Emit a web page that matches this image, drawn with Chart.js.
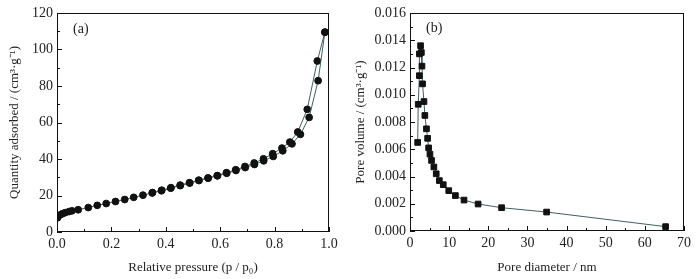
<!DOCTYPE html>
<html><head><meta charset="utf-8">
<script src="https://cdn.jsdelivr.net/npm/chart.js@4/dist/chart.umd.min.js"></script>
<style>
html,body{margin:0;padding:0;background:#fff;}
#wrap{position:relative;width:696px;height:279px;overflow:hidden;}
canvas{position:absolute;top:0;}
.lab{position:absolute;font-family:"Liberation Serif",serif;font-size:14px;color:#222;}
</style></head>
<body>
<div id="wrap">
<canvas id="c1" width="348" height="279" style="left:0"></canvas>
<canvas id="c2" width="348" height="279" style="left:348px"></canvas>
<div class="lab" style="left:73px;top:21px">(a)</div>
<div class="lab" style="left:426px;top:20px">(b)</div>
</div>
<script>
// (a) N2 isotherm
const adsP = [0.002,0.01,0.02,0.03,0.044,0.055,0.078,0.115,0.148,0.181,0.215,0.249,0.282,0.316,0.35,0.384,0.418,0.453,0.488,0.522,0.556,0.59,0.624,0.658,0.692,0.726,0.76,0.795,0.83,0.864,0.895,0.927,0.96,0.985];
const adsQ = [7.8,9.3,10.0,10.6,11.2,11.6,12.2,13.4,14.6,15.6,16.7,17.8,19.0,20.2,21.4,22.6,24.0,25.4,26.8,28.2,29.5,30.8,32.2,33.7,35.3,37.0,39.0,41.4,44.5,48.3,53.5,62.8,82.9,109.5];
const desP = [0.985,0.957,0.92,0.885,0.856,0.827,0.793,0.759,0.725,0.691,0.657,0.623,0.589,0.555,0.521,0.487,0.453,0.419,0.385,0.351];
const desQ = [109.5,93.7,67.2,54.8,49.3,46.0,42.9,40.1,37.8,35.9,34.1,32.5,30.9,29.6,28.4,27.0,25.7,24.3,22.9,21.6];
// (b) pore size distribution
const poreD = [1.96,2.1,2.4,2.4,2.7,2.9,3.06,3.2,3.57,3.8,4.2,4.5,4.76,5.1,5.5,6.1,6.7,7.5,8.5,9.9,11.6,13.8,17.4,23.4,34.9,65.3];
const poreV = [0.0065,0.0093,0.0114,0.0130,0.0136,0.0131,0.0121,0.0108,0.0095,0.00848,0.0075,0.0068,0.0061,0.00564,0.00518,0.0047,0.0042,0.0037,0.0034,0.00296,0.0026,0.00227,0.00198,0.00171,0.00139,0.00032];

const FONT = "'Liberation Serif', serif";
const TXT = '#222';
const LINE = '#3f5f5d';

const frameTicks = {
  id:'frameTicks',
  afterDraw(chart){
    const {ctx, chartArea:a, scales} = chart;
    ctx.save();
    ctx.strokeStyle = '#111'; ctx.lineWidth = 1;
    ctx.strokeRect(Math.round(a.left)+0.5, Math.round(a.top)+0.5, Math.round(a.right-a.left)-1, Math.round(a.bottom-a.top)-1);
    const draw = (sc, horiz) => {
      const t = sc.ticks.map(k=>k.value);
      const vals = [];
      for (let i=0;i<t.length;i++){ vals.push([t[i],5]); if(i<t.length-1) vals.push([(t[i]+t[i+1])/2,3]); }
      ctx.beginPath();
      for (const [v,len] of vals){
        const p = Math.round(sc.getPixelForValue(v))+0.5;
        if (horiz){ ctx.moveTo(p, a.bottom); ctx.lineTo(p, a.bottom-len); }
        else { ctx.moveTo(a.left, p); ctx.lineTo(a.left+len, p); }
      }
      ctx.stroke();
    };
    draw(scales.x,true); draw(scales.y,false);
    ctx.restore();
  }
};

function axis(min,max,step,fmt,title,fitKey,fitVal,tpad){
  return {
    type:'linear', min, max,
    grid:{display:false, drawTicks:false},
    border:{display:false},
    ticks:{stepSize:step, color:TXT, font:{family:FONT,size:14}, padding:4, callback:v=>fmt(v)},
    title:{display:true, text:title, color:TXT, font:{family:FONT,size:13}, padding:tpad},
    afterFit(s){ s[fitKey]=fitVal; }
  };
}

new Chart(document.getElementById('c1'), {
  type:'line',
  data:{datasets:[
    {data:adsP.map((p,i)=>({x:p,y:adsQ[i]})), borderColor:LINE, borderWidth:1, pointRadius:3.4, pointBackgroundColor:'#111', pointBorderColor:'#111', tension:0},
    {data:desP.map((p,i)=>({x:p,y:desQ[i]})), borderColor:LINE, borderWidth:1, pointRadius:3.4, pointBackgroundColor:'#111', pointBorderColor:'#111', tension:0}
  ]},
  options:{
    responsive:false, animation:false, devicePixelRatio:1,
    layout:{padding:{left:0,right:19,top:13,bottom:0}},
    plugins:{legend:{display:false}, tooltip:{enabled:false}},
    scales:{
      x: axis(0,1,0.2,v=>v.toFixed(1),'Relative pressure (p / p₀)','height',47,{top:2,bottom:4}),
      y: axis(0,120,20,v=>String(v),'Quantity adsorbed / (cm³·g⁻¹)','width',57,{top:7,bottom:0})
    }
  },
  plugins:[frameTicks]
});

new Chart(document.getElementById('c2'), {
  type:'line',
  data:{datasets:[
    {data:poreD.map((d,i)=>({x:d,y:poreV[i]})), borderColor:LINE, borderWidth:1, pointStyle:'rect', pointRadius:4, pointBackgroundColor:'#111', pointBorderColor:'#111', tension:0}
  ]},
  options:{
    responsive:false, animation:false, devicePixelRatio:1,
    layout:{padding:{left:0,right:12,top:13,bottom:0}},
    plugins:{legend:{display:false}, tooltip:{enabled:false}},
    scales:{
      x: axis(0,70,10,v=>String(v),'Pore diameter / nm','height',48,{top:2,bottom:4}),
      y: axis(0,0.016,0.002,v=>v.toFixed(3),'Pore volume / (cm³·g⁻¹)','width',62,{top:5,bottom:0})
    }
  },
  plugins:[frameTicks]
});
</script>
</body></html>
